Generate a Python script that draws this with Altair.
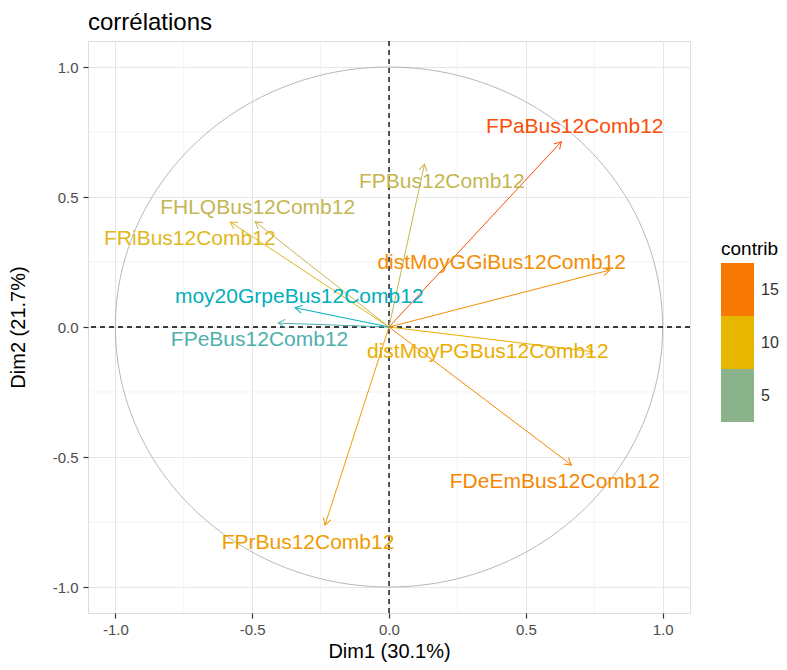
import altair as alt
import pandas as pd

# ---- data ----
names = ["FPaBus12Comb12", "FPBus12Comb12", "distMoyGGiBus12Comb12", "distMoyPGBus12Comb12",
         "FDeEmBus12Comb12", "FPrBus12Comb12", "FHLQBus12Comb12", "FRiBus12Comb12",
         "moy20GrpeBus12Comb12", "FPeBus12Comb12"]
dim1 = [0.63, 0.13, 0.807, 0.745, 0.667, -0.234, -0.489, -0.58, -0.343, -0.405]
dim2 = [0.713, 0.627, 0.219, -0.095, -0.531, -0.762, 0.405, 0.404, 0.074, 0.015]
contrib = [17.5, 7.9, 13.5, 10.9, 14.0, 12.3, 7.8, 9.6, 2.4, 3.2]
label_x = [0.679, 0.193, 0.412, 0.361, 0.606, -0.296, -0.48, -0.728, -0.328, -0.473]
label_y = [0.769, 0.558, 0.246, -0.096, -0.596, -0.831, 0.458, 0.338, 0.115, -0.05]

title_text = ["corrélations"]
major_ticks = [-1.0, -0.5, 0.0, 0.5, 1.0]
minor_ticks = [-0.75, -0.25, 0.25, 0.75]
legend_ticks = [15, 10, 5]
zero = [0.0]

df = pd.DataFrame({"name": names, "x": dim1, "y": dim2, "contrib": contrib,
                   "lx": label_x, "ly": label_y})
minor_df = pd.DataFrame({"v": minor_ticks})
zero_df = pd.DataFrame({"v": zero})
title_df = pd.DataFrame({"t": title_text})

W, H = 602, 572
DOM = [-1.1, 1.1]
KX = W / (DOM[1] - DOM[0])
KY = H / (DOM[1] - DOM[0])

FONT = "Liberation Sans"
lab_expr = "datum.value < 0 ? '-' + format(-datum.value, '.1f') : format(datum.value, '.1f')"
BAR = "M-1,-1.6H1V1.6H-1Z"

xscale = alt.Scale(domain=DOM, nice=False, zero=False)
yscale = alt.Scale(domain=DOM, nice=False, zero=False)

cmin, cmax = min(contrib), max(contrib)


def cscale():
    return alt.Scale(domain=[cmin, (cmin + cmax) / 2, cmax],
                     range=["#00AFBB", "#E7B800", "#FC4E07"], interpolate="lab")


xaxis = alt.Axis(values=major_ticks, labelExpr=lab_expr, title="Dim1 (30.1%)",
                 grid=True, gridColor="#E6E6E6", gridWidth=1, domain=False,
                 tickSize=5, tickColor="#333333", tickWidth=1.2, labelPadding=4,
                 labelFontSize=15, labelColor="#4D4D4D", labelFont=FONT,
                 titleFontSize=20, titleFontWeight="normal", titleColor="#000000",
                 titleFont=FONT, titleY=38, titleBaseline="middle")
yaxis = alt.Axis(values=major_ticks, labelExpr=lab_expr, title="Dim2 (21.7%)",
                 grid=True, gridColor="#E6E6E6", gridWidth=1, domain=False,
                 tickSize=5, tickColor="#333333", tickWidth=1.2, labelPadding=5,
                 labelFontSize=15, labelColor="#4D4D4D", labelFont=FONT,
                 titleFontSize=20, titleFontWeight="normal", titleColor="#000000",
                 titleFont=FONT, titleX=-70, titleY=H / 2, titleBaseline="middle",
                 titleAngle=270)

legend = alt.Legend(type="symbol", title="contrib", values=legend_ticks,
                    orient="none", legendX=633, legendY=199, direction="vertical",
                    symbolType=BAR, symbolSize=1089, symbolStrokeWidth=0,
                    symbolOpacity=1, rowPadding=0,
                    titleFontSize=19, titleFontWeight="normal",
                    titleColor="#000000", titleFont=FONT, titlePadding=14,
                    labelFontSize=16, labelColor="#333333", labelFont=FONT,
                    labelOffset=7)

base = alt.Chart(df)

axes_layer = base.mark_point(opacity=0).encode(
    x=alt.X("x:Q", scale=xscale, axis=xaxis),
    y=alt.Y("y:Q", scale=yscale, axis=yaxis),
)

# invisible layer that only carries the colour legend
legend_layer = base.mark_point(shape=BAR, filled=True, size=0, opacity=1).encode(
    x=alt.X("x:Q", scale=xscale),
    y=alt.Y("y:Q", scale=yscale),
    color=alt.Color("contrib:Q", scale=cscale(), legend=legend),
)

minor_v = alt.Chart(minor_df).mark_rule(color="#EDEDED", strokeWidth=0.6).encode(
    x=alt.X("v:Q", scale=xscale))
minor_h = alt.Chart(minor_df).mark_rule(color="#EDEDED", strokeWidth=0.6).encode(
    y=alt.Y("v:Q", scale=yscale))

circle = alt.Chart(alt.sequence(0, 362, 2, as_="t")).transform_calculate(
    cx="cos(datum.t * PI / 180)", cy="sin(datum.t * PI / 180)"
).mark_line(color="#A6A6A6", strokeWidth=0.8).encode(
    x=alt.X("cx:Q", scale=xscale),
    y=alt.Y("cy:Q", scale=yscale),
    order=alt.Order("t:Q"),
)

zero_v = alt.Chart(zero_df).mark_rule(color="#000000", strokeWidth=1.3, strokeDash=[5, 4]).encode(
    x=alt.X("v:Q", scale=xscale))
zero_h = alt.Chart(zero_df).mark_rule(color="#000000", strokeWidth=1.3, strokeDash=[5, 4]).encode(
    y=alt.Y("v:Q", scale=yscale))

arrows = base.mark_rule(strokeWidth=1).encode(
    x=alt.X("x:Q", scale=xscale),
    y=alt.Y("y:Q", scale=yscale),
    x2=alt.datum(0),
    y2=alt.datum(0),
    stroke=alt.Stroke("contrib:Q", scale=cscale(), legend=None),
)

heads = base.transform_calculate(
    ang=f"(atan2(datum.x * {KX}, datum.y * {KY}) * 180 / PI + 360) % 360"
).mark_point(shape="M-0.5,0.866L0,0L0.5,0.866", filled=False, size=256,
             strokeWidth=1, opacity=1).encode(
    x=alt.X("x:Q", scale=xscale),
    y=alt.Y("y:Q", scale=yscale),
    angle=alt.Angle("ang:Q", scale=None),
    stroke=alt.Stroke("contrib:Q", scale=cscale(), legend=None),
)

labels = base.mark_text(fontSize=21, font=FONT, align="center", baseline="middle").encode(
    x=alt.X("lx:Q", scale=xscale),
    y=alt.Y("ly:Q", scale=yscale),
    text="name:N",
    fill=alt.Fill("contrib:Q", scale=cscale(), legend=None),
)

title_layer = alt.Chart(title_df).mark_text(
    fontSize=24, font=FONT, align="left", baseline="alphabetic", color="#000000"
).encode(x=alt.value(0), y=alt.value(-11), text="t:N")

chart = alt.layer(
    axes_layer, legend_layer, minor_v, minor_h, circle, zero_v, zero_h,
    arrows, heads, labels, title_layer
).properties(
    width=W, height=H,
    autosize=alt.AutoSizeParams(type="none"),
    padding={"left": 80, "top": 33, "right": 89, "bottom": 49},
).configure_view(stroke=None).configure(background="white")

chart.save("out.html", embed_options={"renderer": "svg", "actions": False})
